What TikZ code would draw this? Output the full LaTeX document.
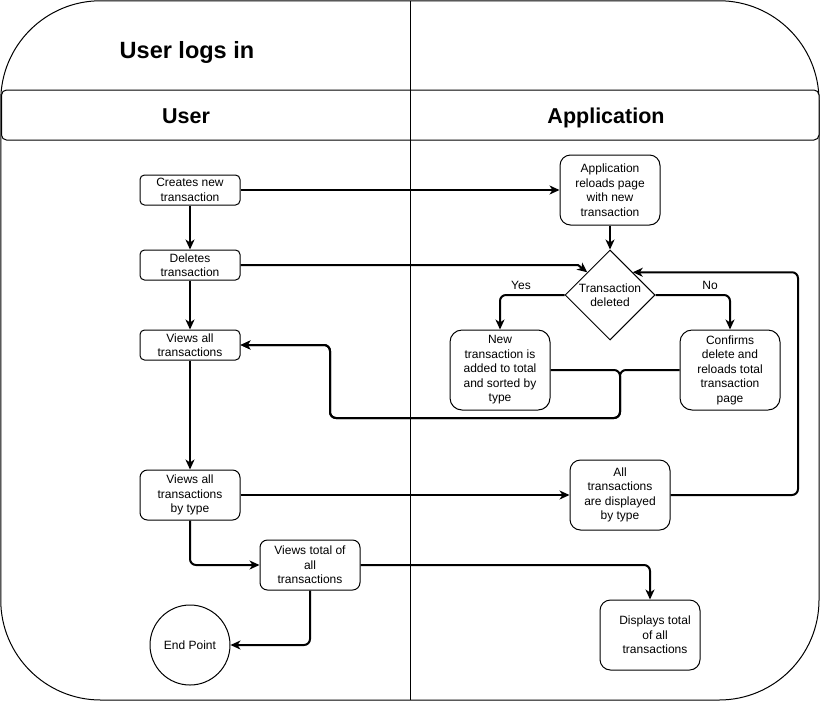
\documentclass[tikz,border=0pt]{standalone}
\usepackage{fontspec}
\setmainfont{Liberation Sans}
\usetikzlibrary{arrows.meta,shapes.geometric}
\begin{document}
\begin{tikzpicture}[x=1pt,y=-1pt,
  box/.style={draw,line width=1pt,align=center,inner sep=0pt,minimum width=100pt,font=\fontsize{12}{14.5}\selectfont},
  txt/.style={align=center,inner sep=0pt,font=\fontsize{12}{14.5}\selectfont},
  conn/.style={line width=2pt,rounded corners=6pt},
  arr/.style={conn,-{Stealth[length=10pt,width=9pt,inset=3pt]}},
  frame/.style={line width=1pt},
]
\fill[white] (0,0) rectangle (821,702);
\useasboundingbox (0,0) rectangle (821,702);

% pool frame
\draw[frame,rounded corners=100pt] (0.75,0.75) rectangle (819,700);
\draw[frame,fill=white,rounded corners=5pt] (1.5,90) rectangle (819,140);
\draw[frame] (410,0.75) -- (410,700);

\node[font=\bfseries\fontsize{23.5}{26}\selectfont] (title) at (187,52) {User logs in};
\node[font=\bfseries\fontsize{21.5}{24}\selectfont] (laneU) at (186,116) {User};
\node[font=\bfseries\fontsize{21.5}{24}\selectfont] (laneA) at (606,118) {Application};

% user lane
\node[box,rounded corners=4.5pt,minimum height=30pt] (c1) at (190,190) {Creates new\\transaction};
\node[box,rounded corners=4.5pt,minimum height=30pt] (del) at (190,265) {Deletes\\transaction};
\node[box,rounded corners=4.5pt,minimum height=30pt] (v1) at (190,345) {Views all\\transactions};
\node[box,rounded corners=7.5pt,minimum height=50pt] (v2) at (190,495) {Views all\\transactions\\by type};
\node[box,rounded corners=7.5pt,minimum height=50pt] (v3) at (310,565) {Views total of\\all\\transactions};
\node[draw,circle,line width=1pt,minimum size=80pt,inner sep=0pt,font=\fontsize{12}{14}\selectfont] (endp) at (190,645) {End Point};

% application lane
\node[box,rounded corners=10.5pt,minimum height=70pt] (app) at (610,190) {Application\\reloads page\\with new\\transaction};
\node[draw,diamond,line width=1pt,minimum width=90pt,minimum height=90pt,inner sep=0pt] (dia) at (610,295) {};
\node[txt] (diat) at (dia.center) {Transaction\\deleted};
\node[box,rounded corners=12pt,minimum height=80pt] (new) at (500,370) {New\\transaction is\\added to total\\and sorted by\\type};
\node[box,rounded corners=12pt,minimum height=80pt] (conf) at (730,370) {Confirms\\delete and\\reloads total\\transaction\\page};
\node[box,rounded corners=10.5pt,minimum height=70pt] (all) at (620,495) {All\\transactions\\are displayed\\by type};
\node[box,rounded corners=10.5pt,minimum height=70pt] (disp) at (650,635) {};
\node[txt] (dispt) at (655,635) {Displays total\\of all\\transactions};

\node[txt] (yes) at (521,285) {Yes};
\node[txt] (no) at (710,285) {No};

% connectors
\draw[arr] (c1.east) -- (app.west);
\draw[arr] (c1) -- (del);
\draw[arr] (del) -- (v1);
\draw[arr,rounded corners=0pt] (del.east) -- (578,265) -- (dia.north west);
\draw[arr] (app) -- (dia);
\draw[arr] (dia.west) -| (new.north);
\draw[arr] (dia.east) -| (conf.north);
\draw[arr] (new.east) -- (620,370) -- (620,418) -- (330,418) |- (v1.east);
\draw[arr] (conf.west) -- (620,370) -- (620,418) -- (330,418) |- (v1.east);
\draw[arr] (v1) -- (v2);
\draw[arr] (v2.east) -- (all.west);
\draw[arr] (all.east) -- (798,495) |- (dia.north east);
\draw[arr] (v2.south) |- (v3.west);
\draw[arr] (v3.east) -| (disp.north);
\draw[arr] (v3.south) |- (endp.east);
\end{tikzpicture}
\end{document}
